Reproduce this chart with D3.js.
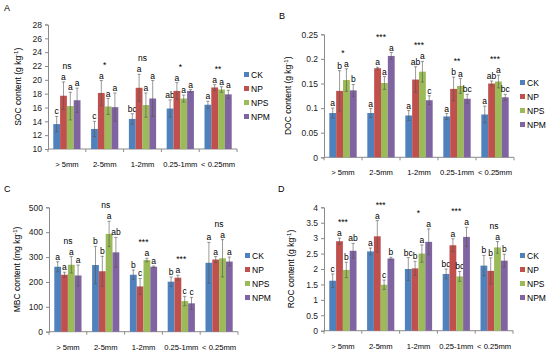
<!DOCTYPE html>
<html>
<head>
<meta charset="utf-8">
<script src="https://cdn.jsdelivr.net/npm/d3@7"></script>
<style>
  body { margin: 0; background: #fff; }
  text { font-family: "Liberation Sans", Arial, sans-serif; }
</style>
</head>
<body>
<script>
// Aggregate size classes and treatments
var categories = ["> 5mm", "2-5mm", "1-2mm", "0.25-1mm", "< 0.25mm"];
var treatments = ["CK", "NP", "NPS", "NPM"];
var colors = ["#4F81BD", "#C0504D", "#9BBB59", "#8064A2"];

// A: SOC (g kg-1), one row per size class, one column per treatment
var socMean = [[13.6, 17.7, 16.2, 17.05], [12.9, 18.1, 16.15, 16.05], [14.35, 18.85, 16.35, 17.3], [15.85, 18.4, 17.3, 18.4], [16.4, 18.9, 18.6, 17.9]];
var socErr = [[1.1, 2.0, 2.0, 1.75], [1.1, 1.8, 1.15, 2.05], [0.75, 1.95, 1.75, 2.6], [1.25, 1.2, 0.5, 0.2], [0.5, 0.4, 0.4, 0.6]];
var socLetters = [["c", "a", "a", "a"], ["c", "a", "a", "a"], ["bc", "a", "a", "a"], ["ab", "a", "a", "a"], ["a", "a", "a", "a"]];
var socSig = ["ns", "*", "ns", "*", "**"];
var socTicks = [10, 12, 14, 16, 18, 20, 22, 24, 26, 28];

// B: DOC (g kg-1)
var docMean = [[0.09, 0.135, 0.157, 0.136], [0.09, 0.181, 0.151, 0.206], [0.085, 0.158, 0.174, 0.116], [0.083, 0.139, 0.145, 0.119], [0.087, 0.15, 0.154, 0.122]];
var docErr = [[0.01, 0.041, 0.023, 0.012], [0.009, 0.002, 0.013, 0.007], [0.01, 0.026, 0.021, 0.009], [0.006, 0.024, 0.015, 0.009], [0.017, 0.005, 0.013, 0.006]];
var docLetters = [["a", "b", "a", "b"], ["a", "a", "a", "a"], ["a", "ab", "a", "c"], ["a", "b", "a", "bc"], ["a", "ab", "a", "bc"]];
var docSig = ["*", "***", "***", "**", "***"];
var docTicks = [0, 0.05, 0.1, 0.15, 0.2, 0.25];

// C: MBC (mg kg-1)
var mbcMean = [[261, 229, 269, 226], [268, 243, 393, 319], [229, 182, 288, 261], [201, 217, 123, 114], [277, 290, 295, 282]];
var mbcErr = [[20, 10, 33, 42], [75, 60, 51, 60], [19, 32, 7, 3], [19, 10, 19, 24], [82, 12, 75, 18]];
var mbcLetters = [["a", "a", "a", "a"], ["b", "b", "a", "ab"], ["b", "c", "a", "a"], ["b", "a", "c", "c"], ["a", "a", "a", "a"]];
var mbcSig = ["ns", "ns", "***", "***", "ns"];
var mbcTicks = [0, 100, 200, 300, 400, 500];

// D: ROC (g kg-1)
var rocMean = [[1.62, 2.9, 1.97, 2.59], [2.57, 3.06, 1.49, 2.34], [2.0, 2.02, 2.5, 2.88], [1.84, 2.77, 1.76, 3.04], [2.11, 1.94, 2.7, 2.27]];
var rocErr = [[0.22, 0.1, 0.25, 0.24], [0.11, 0.51, 0.15, 0.04], [0.37, 0.23, 0.28, 0.42], [0.16, 0.21, 0.16, 0.31], [0.33, 0.42, 0.19, 0.21]];
var rocLetters = [["c", "a", "b", "ab"], ["a", "a", "c", "b"], ["bc", "b", "a", "a"], ["bc", "a", "bc", "a"], ["b", "b", "a", "b"]];
var rocSig = ["***", "***", "*", "***", "ns"];
var rocTicks = [0, 0.5, 1, 1.5, 2, 2.5, 3, 3.5, 4];

var svg = d3.select("body")
  .append("svg")
  .attr("width", 550)
  .attr("height", 358);

var axisColor = "#8a8a8a";

function drawPanel(p) {
  var g = svg.append("g");

  // panel letter
  g.append("text")
    .attr("x", p.labelX)
    .attr("y", p.labelY)
    .attr("font-size", 9)
    .text(p.label);

  var x = d3.scaleBand()
    .domain(categories)
    .range([p.left, p.right])
    .paddingInner(0.28)
    .paddingOuter(0.14);

  var xs = d3.scaleBand()
    .domain(treatments)
    .range([0, x.bandwidth()]);

  var y = d3.scaleLinear()
    .domain([p.ticks[0], p.ticks[p.ticks.length - 1]])
    .range([p.bottom, p.top]);

  // y axis
  var yAxis = g.append("g")
    .attr("transform", `translate(${p.left},0)`)
    .call(d3.axisLeft(y).tickValues(p.ticks).tickSize(3).tickPadding(3)
      .tickFormat(d => +d.toFixed(2)));
  yAxis.selectAll("path, line").attr("stroke", axisColor);
  yAxis.selectAll("text").attr("font-size", 8.5).attr("fill", "#222")
    .attr("font-family", "Liberation Sans, Arial, sans-serif");

  // x axis with ticks between groups
  var step = x.step();
  g.append("line")
    .attr("x1", p.left).attr("x2", p.right)
    .attr("y1", p.bottom).attr("y2", p.bottom)
    .attr("stroke", axisColor);
  g.selectAll(".xtick")
    .data(d3.range(categories.length + 1))
    .enter()
    .append("line")
    .attr("x1", i => p.left + i * step)
    .attr("x2", i => p.left + i * step)
    .attr("y1", p.bottom)
    .attr("y2", p.bottom + 3)
    .attr("stroke", axisColor);
  g.selectAll(".xlab")
    .data(categories)
    .enter()
    .append("text")
    .attr("x", d => x(d) + x.bandwidth() / 2)
    .attr("y", p.bottom + 18)
    .attr("text-anchor", "middle")
    .attr("font-size", 7.6)
    .text(d => d);

  // y title
  var yt = g.append("text")
    .attr("transform", `translate(${p.left - p.titleOff},${(p.top + p.bottom) / 2}) rotate(-90)`)
    .attr("text-anchor", "middle")
    .attr("font-size", 8.5);
  yt.append("tspan").text(p.title + " (" + p.unit + " kg");
  yt.append("tspan").attr("font-size", 6).attr("dy", -3).text("-1");
  yt.append("tspan").attr("dy", 3).text(")");

  // bars, error bars and letters
  categories.forEach(function(cat, ci) {
    var grp = g.append("g").attr("transform", `translate(${x(cat)},0)`);
    var letterTops = [];
    treatments.forEach(function(t, ti) {
      var m = p.mean[ci][ti];
      var e = p.err[ci][ti];
      var bx = xs(t);
      var bw = xs.bandwidth();
      grp.append("rect")
        .attr("x", bx)
        .attr("y", y(m))
        .attr("width", bw)
        .attr("height", p.bottom - y(m))
        .attr("fill", colors[ti]);
      var cx = bx + bw / 2;
      grp.append("line")
        .attr("x1", cx).attr("x2", cx)
        .attr("y1", y(m - e)).attr("y2", y(m + e))
        .attr("stroke", "#555").attr("stroke-width", 0.6);
      [m - e, m + e].forEach(function(v) {
        grp.append("line")
          .attr("x1", cx - 1.6).attr("x2", cx + 1.6)
          .attr("y1", y(v)).attr("y2", y(v))
          .attr("stroke", "#555").attr("stroke-width", 0.6);
      });
      var ly = y(m + e) - 2;
      letterTops.push(ly);
      grp.append("text")
        .attr("x", cx)
        .attr("y", ly)
        .attr("text-anchor", "middle")
        .attr("font-size", 8.5)
        .text(p.letters[ci][ti]);
    });
    grp.append("text")
      .attr("x", x.bandwidth() / 2)
      .attr("y", d3.min(letterTops) - 11)
      .attr("text-anchor", "middle")
      .attr("font-size", 8.5)
      .text(p.sig[ci]);
  });

  // legend
  var lg = g.append("g");
  treatments.forEach(function(t, ti) {
    lg.append("rect")
      .attr("x", p.legendX)
      .attr("y", p.legendY + ti * 14 - 3)
      .attr("width", 5)
      .attr("height", 5)
      .attr("fill", colors[ti]);
    lg.append("text")
      .attr("x", p.legendX + 7)
      .attr("y", p.legendY + ti * 14 + 3)
      .attr("font-size", 8.5)
      .text(t);
  });
}

drawPanel({ label: "A", labelX: 4, labelY: 11, left: 48, right: 237, top: 24.5, bottom: 149,
  ticks: socTicks, mean: socMean, err: socErr, letters: socLetters, sig: socSig,
  title: "SOC content", unit: "g", titleOff: 27, legendX: 244, legendY: 75 });
drawPanel({ label: "B", labelX: 279, labelY: 19, left: 324, right: 514, top: 34.3, bottom: 157.3,
  ticks: docTicks, mean: docMean, err: docErr, letters: docLetters, sig: docSig,
  title: "DOC content", unit: "g", titleOff: 33, legendX: 520, legendY: 83 });
drawPanel({ label: "C", labelX: 4, labelY: 192, left: 49, right: 238, top: 207.3, bottom: 331.7,
  ticks: mbcTicks, mean: mbcMean, err: mbcErr, letters: mbcLetters, sig: mbcSig,
  title: "MBC content", unit: "mg", titleOff: 29, legendX: 245, legendY: 256 });
drawPanel({ label: "D", labelX: 278, labelY: 192, left: 324, right: 513, top: 207.3, bottom: 330.7,
  ticks: rocTicks, mean: rocMean, err: rocErr, letters: rocLetters, sig: rocSig,
  title: "ROC content", unit: "g", titleOff: 30, legendX: 520, legendY: 256 });
</script>
</body>
</html>
